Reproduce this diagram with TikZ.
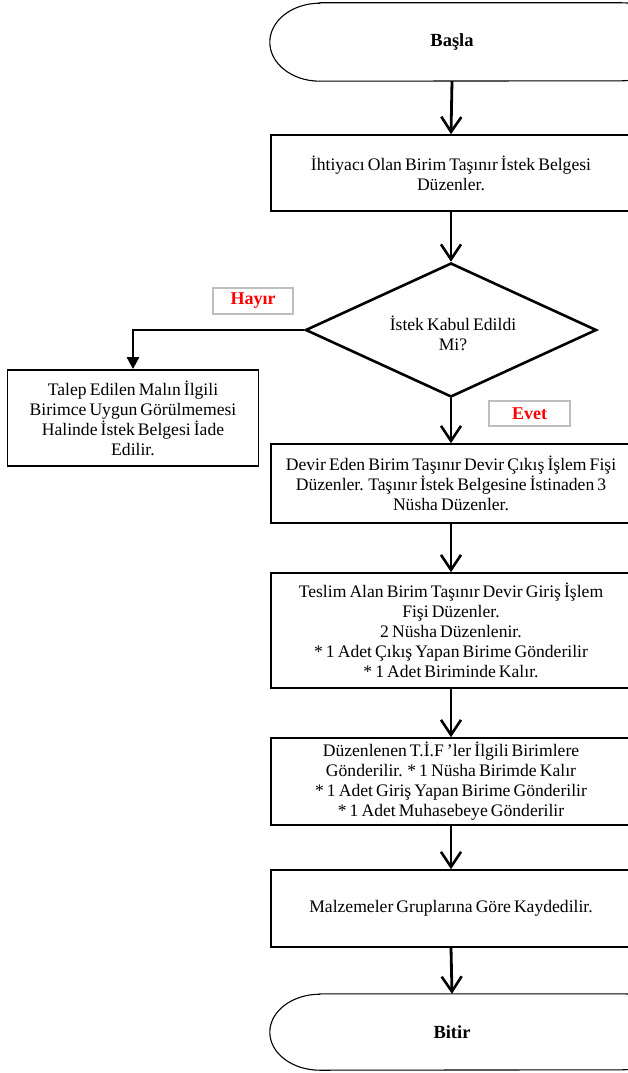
\documentclass[tikz,border=0pt]{standalone}
\usepackage{fontspec}
\setmainfont{Liberation Serif}[WordSpace=0.7]
\usetikzlibrary{arrows.meta,shapes.geometric}
\definecolor{lblgray}{RGB}{190,190,190}
\definecolor{lblred}{RGB}{255,0,0}
\tikzset{
  procbox/.style={draw=black, line width=1.6pt, minimum width=360pt, inner sep=0pt, align=center,
    font=\fontsize{17.6}{20}\selectfont},
  termbox/.style={minimum width=364pt, inner sep=0pt, font=\fontsize{18.5}{20}\selectfont\bfseries},
  termline/.style={draw=black, line width=1.1pt},
  dectext/.style={align=center, inner sep=0pt, font=\fontsize{17.6}{20}\selectfont},
  lblbox/.style={draw=lblgray, line width=1.2pt, inner sep=0pt, text=lblred,
    font=\fontsize{18}{18}\selectfont\bfseries},
  flow/.style={line width=2.8pt, -{Straight Barb[length=15pt,width=20pt,line width=2.6pt]}},
  noflow/.style={line width=2.8pt, -{Triangle[length=12pt,width=12pt]}},
}
\begin{document}
\begin{tikzpicture}[x=1pt,y=1pt]
\useasboundingbox (0,0) rectangle (627,-1073);
% terminators
\node[termbox, minimum height=78pt] (start) at (452,-42) {Başla};
\draw[termline] ([xshift=50pt]start.north west) -- ([xshift=-12pt]start.north east)
  arc[start angle=90,end angle=-90,x radius=50pt,y radius=39pt]
  -- ([xshift=50pt]start.south west)
  arc[start angle=270,end angle=90,x radius=50pt,y radius=39pt] -- cycle;
% process boxes
\node[procbox, minimum height=76pt] (b1) at (451,-173) {İhtiyacı Olan Birim Taşınır İstek Belgesi\\Düzenler.};
% decision
\node[diamond, draw=black, line width=2.6pt, minimum width=291pt, minimum height=134pt, inner sep=0pt] (d) at (451,-330) {};
\node[dectext] (dt) at (453,-333) {İstek Kabul Edildi\\Mi?};
\node[lblbox, minimum width=80pt, minimum height=26pt] (hayir) at (253,-301) {Hayır};
\node[lblbox, minimum width=81pt, minimum height=25pt] (evet) at (529.5,-413.5) {Evet};
\node[procbox, minimum width=251pt, minimum height=96pt, line width=1.8pt] (talep) at (133,-418) {Talep Edilen Malın İlgili\\Birimce Uygun Görülmemesi\\Halinde İstek Belgesi İade\\Edilir.};
\node[procbox, minimum height=79pt] (devir) at (451,-483.5) {Devir Eden Birim Taşınır Devir Çıkış İşlem Fişi\\Düzenler. Taşınır İstek Belgesine İstinaden 3\\Nüsha Düzenler.};
\node[procbox, minimum height=115pt] (teslim) at (451,-630.5) {Teslim Alan Birim Taşınır Devir Giriş İşlem\\Fişi Düzenler.\\2 Nüsha Düzenlenir.\\* 1 Adet Çıkış Yapan Birime Gönderilir\\* 1 Adet Biriminde Kalır.};
\node[procbox, minimum height=87pt] (duz) at (451,-781.5) {Düzenlenen T.İ.F ’ler İlgili Birimlere\\Gönderilir. * 1 Nüsha Birimde Kalır\\* 1 Adet Giriş Yapan Birime Gönderilir\\* 1 Adet Muhasebeye Gönderilir};
\node[procbox, minimum height=77pt] (malz) at (451,-908.5) {Malzemeler Gruplarına Göre Kaydedilir.};
\node[termbox, minimum height=76pt] (end) at (452,-1032) {Bitir};
\draw[termline] ([xshift=50pt]end.north west) -- ([xshift=-12pt]end.north east)
  arc[start angle=90,end angle=-90,x radius=50pt,y radius=38pt]
  -- ([xshift=50pt]end.south west)
  arc[start angle=270,end angle=90,x radius=50pt,y radius=38pt] -- cycle;
% connectors
\draw[flow] (start.south) -- (b1.north);
\draw[flow] (b1.south) -- (d.north);
\draw[noflow] (d.west) -| (talep.north);
\draw[flow] (d.south) -- (devir.north);
\draw[flow] (devir.south) -- (teslim.north);
\draw[flow] (teslim.south) -- (duz.north);
\draw[flow] (duz.south) -- (malz.north);
\draw[flow] (malz.south) -- (end.north);
\end{tikzpicture}
\end{document}
